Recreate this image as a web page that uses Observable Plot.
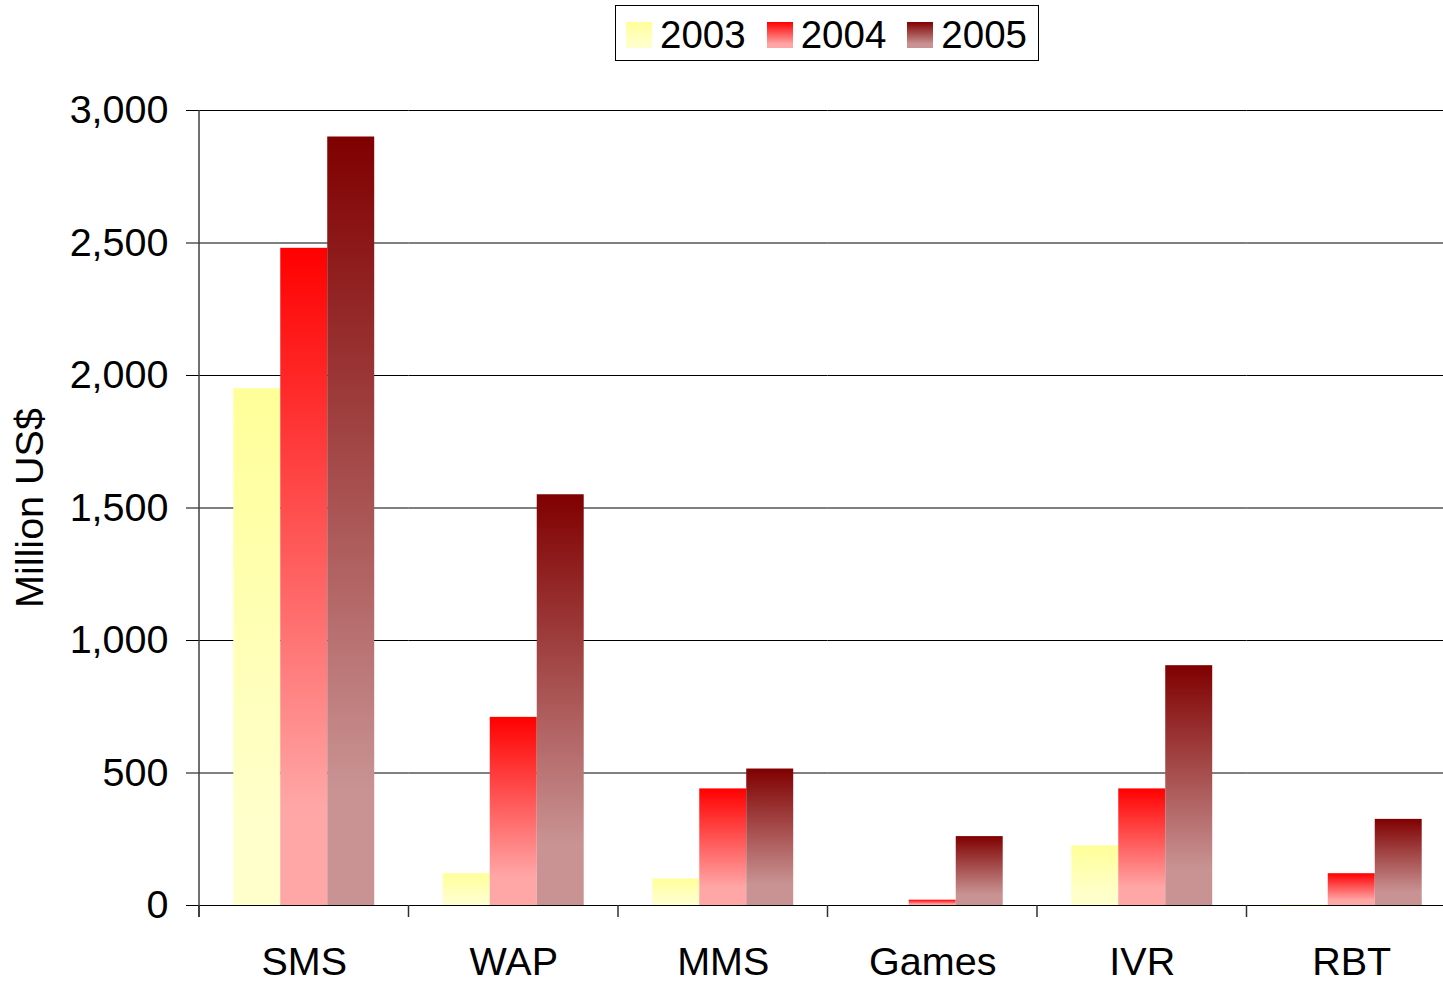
<!DOCTYPE html>
<html>
<head>
<meta charset="utf-8">
<script src="https://cdn.jsdelivr.net/npm/d3@7"></script>
<script src="https://cdn.jsdelivr.net/npm/@observablehq/plot@0.6"></script>
<style>
  html, body { margin: 0; padding: 0; background: #fff; overflow: hidden; }
  #wrap { position: relative; width: 1443px; height: 982px; overflow: hidden; font-family: "Liberation Sans", Arial, sans-serif; }
  #legend { position: absolute; left: 615px; top: 5px; height: 56px; box-sizing: border-box; border: 1px solid #000; background: #fff;
            display: flex; align-items: center; padding: 4px 11px 0 10px; font-size: 38.5px; color: #000; z-index: 2; }
  .item { display: flex; align-items: center; margin-right: 21px; }
  .item:last-child { margin-right: 0; }
  .sw { width: 26px; height: 26px; margin-right: 8px; }
  #chart { position: absolute; left: 0; top: 0; width: 1456px; }
  #chart svg { max-width: none !important; }
</style>
</head>
<body>
<div id="wrap">
  <div id="legend"></div>
  <div id="chart"></div>
</div>
<script>
// ---- data ----
const categories = ["SMS", "WAP", "MMS", "Games", "IVR", "RBT"];
const years = [2003, 2004, 2005];
const values2003 = [1950, 120, 100, 0, 225, 3];
const values2004 = [2480, 710, 440, 20, 440, 120];
const values2005 = [2900, 1550, 515, 260, 905, 325];
const yTicks = [0, 500, 1000, 1500, 2000, 2500, 3000];
const yLabel = "Million US$";

// gradient colours (top -> bottom) per year
const gradTop = {2003: "#ffff99", 2004: "#ff0000", 2005: "#800000"};
const gradBottom = {2003: "#ffffcc", 2004: "#ffa6a6", 2005: "#c99393"};

const seriesByYear = {2003: values2003, 2004: values2004, 2005: values2005};
const rows = [];
categories.forEach((c, i) => years.forEach(y => rows.push({category: c, year: y, value: seriesByYear[y][i]})));

const chart = Plot.plot({
  width: 1456,
  height: 982,
  marginTop: 110,
  marginBottom: 77,
  marginLeft: 199,
  marginRight: 0,
  style: {fontFamily: "'Liberation Sans', Arial, sans-serif", fontSize: "39.5px", color: "#000", background: "transparent", overflow: "visible", maxWidth: "none"},
  fx: {domain: categories, padding: 0, label: null, round: false},
  x: {domain: years, paddingInner: 0, paddingOuter: 0.73, axis: null, round: false},
  y: {domain: [0, 3000], label: null},
  marks: [
    Plot.gridY(yTicks, {stroke: "#000", strokeOpacity: 1, strokeWidth: 1}),
    ...years.map(yr => Plot.barY(rows, {
      filter: d => d.year === yr,
      fx: "category", x: "year", y: "value",
      fill: `url(#grad${yr})`
    })),
    Plot.ruleY([0], {stroke: "#000", strokeWidth: 1.2}),
    Plot.axisY(yTicks, {
      tickSize: 13, tickPadding: 18, tickFormat: d3.format(","), fontSize: 39.5,
      stroke: "#000",
      label: yLabel, labelAnchor: "center", labelOffset: 185, labelArrow: "none"
    }),
    Plot.axisFx({anchor: "bottom", tickSize: 0, tickPadding: 41, fontSize: 39.5, label: null})
  ]
});

document.getElementById("chart").appendChild(chart);

// gradients + axis lines drawn from Plot's own scales
const svg = d3.select(chart);
const defs = svg.insert("defs", ":first-child");
years.forEach(yr => {
  const g = defs.append("linearGradient").attr("id", `grad${yr}`)
    .attr("x1", 0).attr("y1", 0).attr("x2", 0).attr("y2", 1);
  g.append("stop").attr("offset", 0).attr("stop-color", gradTop[yr]);
  g.append("stop").attr("offset", 0.85).attr("stop-color", gradBottom[yr]);
});

const fx = chart.scale("fx");
const ys = chart.scale("y");
const y0 = ys.apply(0), yTop = ys.apply(3000);
const x0 = fx.apply(categories[0]);
const bw = fx.bandwidth;
const axisG = svg.append("g");
axisG.append("line").attr("x1", x0).attr("x2", x0).attr("y1", yTop).attr("y2", y0 + 12)
  .attr("stroke", "#404040").attr("stroke-width", 1.5);
const bounds = categories.map(c => fx.apply(c)).concat([fx.apply(categories[categories.length - 1]) + bw]);
bounds.forEach(b => axisG.append("line").attr("x1", b).attr("x2", b).attr("y1", y0).attr("y2", y0 + 12)
  .attr("stroke", "#303030").attr("stroke-width", 1.5));

// legend
const legend = d3.select("#legend");
years.forEach(yr => {
  const it = legend.append("div").attr("class", "item");
  it.append("div").attr("class", "sw").style("background", `linear-gradient(to bottom, ${gradTop[yr]}, ${gradBottom[yr]} 85%)`);
  it.append("span").text(String(yr));
});
</script>
</body>
</html>
